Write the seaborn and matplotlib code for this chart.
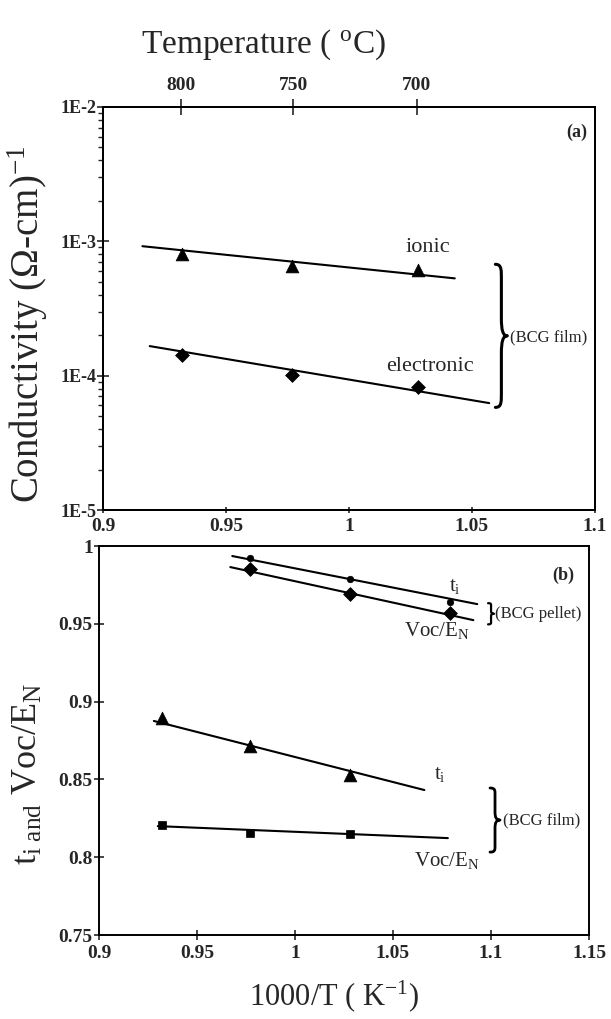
import numpy as np
import matplotlib
matplotlib.use("Agg")
import matplotlib.pyplot as plt
from matplotlib.path import Path
from matplotlib.patches import PathPatch
from matplotlib.ticker import FixedLocator, LogLocator, NullFormatter
import seaborn as sns

# ---- (a) conductivity of the BCG film ----
inv_T_film = [0.932, 0.977, 1.028]          # 1000/T (K^-1)
sigma_ionic = [8.0e-4, 6.6e-4, 6.1e-4]      # (ohm-cm)^-1
sigma_electronic = [1.42e-4, 1.01e-4, 8.2e-5]
ionic_fit_x = [0.916, 1.043]
ionic_fit_y = [9.2e-4, 5.3e-4]
electronic_fit_x = [0.919, 1.057]
electronic_fit_y = [1.66e-4, 6.25e-5]

# ---- (b) ionic transference number and Voc/EN ----
inv_T_pellet = [0.977, 1.028, 1.079]
ti_pellet = [0.9923, 0.9788, 0.964]
voc_pellet = [0.9852, 0.9692, 0.957]
ti_pellet_fit_x = [0.968, 1.093]
ti_pellet_fit_y = [0.9936, 0.9627]
voc_pellet_fit_x = [0.967, 1.091]
voc_pellet_fit_y = [0.9865, 0.9524]

ti_film = [0.8895, 0.8715, 0.8528]
voc_film = [0.8207, 0.8156, 0.8149]
ti_film_fit_x = [0.928, 1.066]
ti_film_fit_y = [0.8876, 0.8432]
voc_film_fit_x = [0.930, 1.078]
voc_film_fit_y = [0.820, 0.8123]

# ---- axis ticks ----
temp_ticks_C = [800, 750, 700]
xticks_a = [0.9, 0.95, 1.0, 1.05, 1.1]
xlabels_a = ["0.9", "0.95", "1", "1.05", "1.1"]
yticks_a = [1e-5, 1e-4, 1e-3, 1e-2]
ylabels_a = ["1E-5", "1E-4", "1E-3", "1E-2"]
xticks_b = [0.9, 0.95, 1.0, 1.05, 1.1, 1.15]
xlabels_b = ["0.9", "0.95", "1", "1.05", "1.1", "1.15"]
yticks_b = [0.75, 0.8, 0.85, 0.9, 0.95, 1.0]
ylabels_b = ["0.75", "0.8", "0.85", "0.9", "0.95", "1"]

sns.set_theme(style="ticks")
plt.rcParams["font.family"] = ["Liberation Serif", "DejaVu Serif"]
plt.rcParams["mathtext.fontset"] = "custom"
plt.rcParams["mathtext.rm"] = "Liberation Serif"
plt.rcParams["mathtext.it"] = "Liberation Serif"
plt.rcParams["mathtext.bf"] = "Liberation Serif:bold"
plt.rcParams["axes.linewidth"] = 1.4
plt.rcParams["axes.edgecolor"] = "black"

fig = plt.figure(figsize=(6.11, 10.19), dpi=100)
ax_a = fig.add_axes([0.1686, 0.4995, 0.8052, 0.3955])
ax_b = fig.add_axes([0.1620, 0.0824, 0.8020, 0.3817])

LW = 1.5
TICK_FS = 14


def curly_brace(ax, x, y_bottom, y_top, width_px, lw=2.2):
    """Draw a right-pointing curly brace spanning y_bottom..y_top at data x."""
    tr = ax.transData
    x0, yb = tr.transform((x, y_bottom))
    _, yt = tr.transform((x, y_top))
    w = width_px
    ym = 0.5 * (yb + yt)
    h = 0.5 * (yt - yb)
    xm = x0 + 0.5 * w
    verts = [
        (x0, yt),
        (x0 + 0.55 * w, yt), (xm, yt - 0.08 * h), (xm, yt - 0.25 * h),
        (xm, ym + 0.25 * h),
        (xm, ym + 0.08 * h), (x0 + 0.62 * w, ym), (x0 + w, ym),
        (x0 + 0.62 * w, ym), (xm, ym - 0.08 * h), (xm, ym - 0.25 * h),
        (xm, yb + 0.25 * h),
        (xm, yb + 0.08 * h), (x0 + 0.55 * w, yb), (x0, yb),
    ]
    codes = [Path.MOVETO,
             Path.CURVE4, Path.CURVE4, Path.CURVE4,
             Path.LINETO,
             Path.CURVE4, Path.CURVE4, Path.CURVE4,
             Path.CURVE4, Path.CURVE4, Path.CURVE4,
             Path.LINETO,
             Path.CURVE4, Path.CURVE4, Path.CURVE4]
    verts_ax = ax.transAxes.inverted().transform(np.array(verts))
    patch = PathPatch(Path(verts_ax, codes), transform=ax.transAxes,
                      facecolor="none", edgecolor="black", lw=lw,
                      clip_on=False, capstyle="round", joinstyle="round")
    ax.add_patch(patch)


# ================= panel (a) =================
ax = ax_a
ax.set_yscale("log")
ax.set_xlim(0.9, 1.1)
ax.set_ylim(1e-5, 1e-2)

sns.lineplot(x=ionic_fit_x, y=ionic_fit_y, color="black", lw=LW, ax=ax)
sns.lineplot(x=electronic_fit_x, y=electronic_fit_y, color="black", lw=LW, ax=ax)
sns.scatterplot(x=inv_T_film, y=sigma_ionic, marker="^", s=85, color="black",
                edgecolor="black", linewidth=0.5, ax=ax, zorder=3)
sns.scatterplot(x=inv_T_film, y=sigma_electronic, marker="D", s=50, color="black",
                edgecolor="black", linewidth=0.5, ax=ax, zorder=3)

ax.xaxis.set_major_locator(FixedLocator(xticks_a))
ax.set_xticklabels(xlabels_a, fontsize=TICK_FS, fontweight="bold")
ax.yaxis.set_major_locator(FixedLocator(yticks_a))
ax.set_yticklabels(ylabels_a, fontsize=TICK_FS - 1, fontweight="bold")
ax.yaxis.set_minor_locator(LogLocator(base=10, subs=np.arange(2, 10)))
ax.yaxis.set_minor_formatter(NullFormatter())
ax.tick_params(axis="y", which="major", direction="inout", length=8, width=1.2, pad=1)
ax.tick_params(axis="y", which="minor", direction="out", length=3.5, width=1.0)
ax.tick_params(axis="x", which="major", direction="inout", length=5, width=1.2, pad=3)
ax.tick_params(axis="x", which="minor", length=0)

ax.set_ylabel("Conductivity (Ω-cm)$^{\\mathrm{-1}}$", fontsize=28)
ax.yaxis.set_label_coords(-0.108, 0.46)

ax.text(1.032, 9.0e-4, "ionic", fontsize=16, ha="center", va="center")
ax.text(1.033, 1.17e-4, "electronic", fontsize=16, ha="center", va="center")
ax.text(1.097, 10 ** -2.19, "(a)", fontsize=13, fontweight="bold", ha="right", va="center")
curly_brace(ax, 1.0595, 10 ** -4.236, 10 ** -3.171, 12)
ax.text(1.0655, 10 ** -3.715, "(BCG film)", fontsize=12, ha="left", va="center")

# temperature scale on top
top = ax.twiny()
top.set_xlim(ax.get_xlim())
top.xaxis.set_major_locator(FixedLocator([1000.0 / (t + 273.15) for t in temp_ticks_C]))
top.set_xticklabels([str(t) for t in temp_ticks_C], fontsize=TICK_FS, fontweight="bold")
top.tick_params(axis="x", which="major", direction="inout", length=11, width=1.2, pad=4)
top.tick_params(axis="x", which="minor", length=0)
top.spines[:].set_linewidth(1.4)

fig.text(0.432, 0.956, "Temperature ( $^{\\mathrm{o}}$C)", fontsize=24,
         ha="center", va="center")

# ================= panel (b) =================
ax = ax_b
ax.set_xlim(0.9, 1.15)
ax.set_ylim(0.75, 1.0)

for fx, fy in [(ti_pellet_fit_x, ti_pellet_fit_y), (voc_pellet_fit_x, voc_pellet_fit_y),
               (ti_film_fit_x, ti_film_fit_y), (voc_film_fit_x, voc_film_fit_y)]:
    sns.lineplot(x=fx, y=fy, color="black", lw=LW, ax=ax)

sns.scatterplot(x=inv_T_pellet, y=ti_pellet, marker="o", s=22, color="black",
                edgecolor="black", linewidth=0.5, ax=ax, zorder=3)
sns.scatterplot(x=inv_T_pellet, y=voc_pellet, marker="D", s=50, color="black",
                edgecolor="black", linewidth=0.5, ax=ax, zorder=3)
sns.scatterplot(x=inv_T_film, y=ti_film, marker="^", s=85, color="black",
                edgecolor="black", linewidth=0.5, ax=ax, zorder=3)
sns.scatterplot(x=inv_T_film, y=voc_film, marker="s", s=30, color="black",
                edgecolor="black", linewidth=0.5, ax=ax, zorder=3)

ax.xaxis.set_major_locator(FixedLocator(xticks_b))
ax.set_xticklabels(xlabels_b, fontsize=TICK_FS, fontweight="bold")
ax.yaxis.set_major_locator(FixedLocator(yticks_b))
ax.set_yticklabels(ylabels_b, fontsize=TICK_FS, fontweight="bold")
ax.tick_params(axis="both", which="major", direction="inout", length=7, width=1.2, pad=1)
ax.tick_params(axis="x", which="major", pad=4)
ax.tick_params(axis="both", which="minor", length=0)

ax.set_ylabel("t$_{\\mathrm{i\\ and}}$ Voc/E$_{\\mathrm{N}}$", fontsize=26)
ax.yaxis.set_label_coords(-0.11, 0.415)
ax.set_xlabel("1000/T ( K$^{\\mathrm{-1}}$)", fontsize=22)
ax.xaxis.set_label_coords(0.48, -0.11)

ax.text(1.1367, 0.9814, "(b)", fontsize=13, fontweight="bold", ha="center", va="center")
ax.text(1.0816, 0.9737, "t$_{\\mathrm{i}}$", fontsize=15, ha="center", va="center")
ax.text(1.0724, 0.9455, "Voc/E$_{\\mathrm{N}}$", fontsize=15, ha="center", va="center")
curly_brace(ax, 1.0985, 0.9497, 0.9633, 6, lw=1.6)
ax.text(1.102, 0.9565, "(BCG pellet)", fontsize=12, ha="left", va="center")

ax.text(1.074, 0.853, "t$_{\\mathrm{i}}$", fontsize=15, ha="center", va="center")
ax.text(1.0776, 0.7982, "Voc/E$_{\\mathrm{N}}$", fontsize=15, ha="center", va="center")
curly_brace(ax, 1.0995, 0.8033, 0.8445, 10, lw=2.0)
ax.text(1.106, 0.8235, "(BCG film)", fontsize=12, ha="left", va="center")

for a in (ax_a, ax_b):
    for s in a.spines.values():
        s.set_visible(True)
        s.set_linewidth(1.4)

fig.savefig("out.png", dpi=100)
